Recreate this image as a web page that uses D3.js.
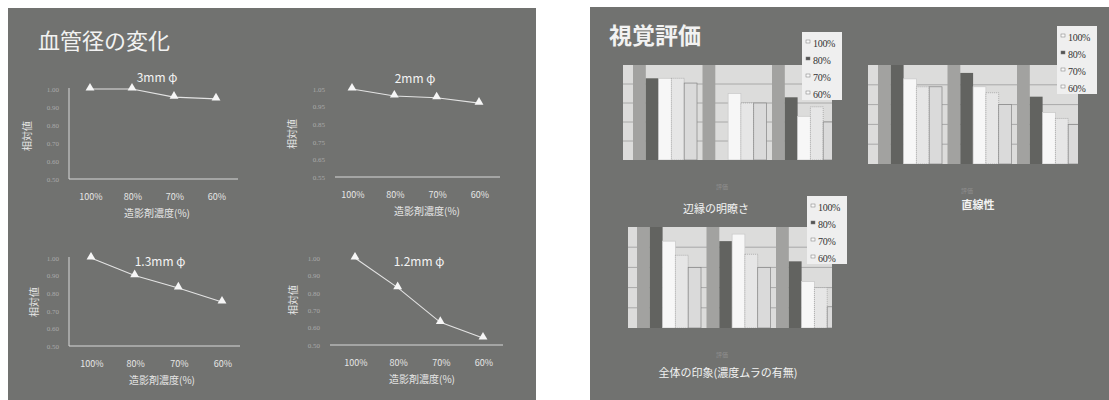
<!DOCTYPE html>
<html lang="ja">
<head>
<meta charset="UTF-8">
<title>血管径の変化 / 視覚評価</title>
<script src="https://cdn.jsdelivr.net/npm/d3@7"></script>
<style>
  body { margin: 0; background: #fff; }
  svg { display: block; font-family: "Noto Sans CJK JP", "Noto Sans", sans-serif; }
  .serif { font-family: "Liberation Serif", "DejaVu Serif", serif; }
</style>
</head>
<body>
<div id="chart"></div>
<script>
// 左スライド: 造影剤濃度と相対値
const concentrations = ["100%", "80%", "70%", "60%"];
const v3mm  = [1.00, 1.00, 0.955, 0.945];
const v2mm  = [1.05, 1.01, 1.00, 0.97];
const v13mm = [1.00, 0.90, 0.83, 0.75];
const v12mm = [1.00, 0.83, 0.63, 0.54];
const ticksA = [1.00, 0.90, 0.80, 0.70, 0.60, 0.50];
const ticksB = [1.05, 0.95, 0.85, 0.75, 0.65, 0.55];

// 右スライド: 視覚評価 (3 グループ x 5 本)
const groups = ["1", "2", "3"];
const seriesKeys = ["ref", "80%", "100%", "70%", "60%"];
const legendNames = ["100%", "80%", "70%", "60%"];
const edgeScores  = [[5, 4.3, 4.3, 4.3, 4.05], [5, 0, 3.5, 3.0, 3.0], [5, 3.3, 2.3, 2.8, 2.0]];
const lineScores  = [[5, 5, 4.3, 3.9, 3.9], [5, 4.6, 3.9, 3.6, 3.0], [5, 3.4, 2.6, 2.3, 2.0]];
const totalScores = [[5, 5, 4.3, 3.6, 3.0], [5, 4.3, 4.65, 3.65, 3.0], [5, 3.3, 2.3, 2.0, 1.05]];

const W = 1109, H = 400;
const svg = d3.select("#chart").append("svg").attr("width", W).attr("height", H);

// スライド背景
svg.append("rect").attr("x", 8).attr("y", 8).attr("width", 528).attr("height", 400).attr("fill", "#717270");
svg.append("rect").attr("x", 590).attr("y", 7).attr("width", 530).attr("height", 400).attr("fill", "#717270");

svg.append("text").attr("x", 38).attr("y", 49).attr("fill", "#f2f2f2")
  .attr("font-size", 22).text("血管径の変化");
svg.append("text").attr("x", 609).attr("y", 44).attr("fill", "#f2f2f2")
  .attr("font-size", 23).attr("font-weight", "bold").text("視覚評価");

function lineChart(o) {
  const g = svg.append("g");
  const x = d3.scalePoint().domain(concentrations).range(o.xr);
  const y = d3.scaleLinear().domain([o.ticks[o.ticks.length - 1], o.ticks[0]]).range(o.yr);

  // 軸
  if (o.yLine) {
    g.append("line").attr("x1", o.axisX).attr("x2", o.axisX)
      .attr("y1", o.yr[1] - 1).attr("y2", o.yr[0]).attr("stroke", "#d8d8d8").attr("stroke-width", 1);
  }
  g.append("line").attr("x1", o.axisX).attr("x2", o.axisEnd)
    .attr("y1", o.yr[0]).attr("y2", o.yr[0]).attr("stroke", "#d8d8d8").attr("stroke-width", 1);

  const ya = g.append("g").attr("transform", `translate(${o.axisX - 7},0)`)
    .call(d3.axisLeft(y).tickValues(o.ticks).tickFormat(d3.format(".2f")).tickSize(0));
  ya.select(".domain").remove();
  ya.attr("font-family", null);
  ya.selectAll("text").attr("class", "serif").attr("fill", "#aaaaaa").attr("font-size", 7);

  concentrations.forEach(c => {
    g.append("text").attr("x", x(c) + 1).attr("y", o.yr[0] + 21)
      .attr("text-anchor", "middle").attr("fill", "#e6e6e6").attr("font-size", 9).text(c);
  });
  g.append("text").attr("x", o.titleX).attr("y", o.yr[0] + 38)
    .attr("text-anchor", "middle").attr("fill", "#e6e6e6").attr("font-size", 10).text("造影剤濃度(%)");
  g.append("text").attr("transform", `translate(${o.ytX},${o.ytY}) rotate(-90)`)
    .attr("text-anchor", "middle").attr("fill", "#e6e6e6").attr("font-size", 10).text("相対値");
  g.append("text").attr("x", o.nameX).attr("y", o.nameY)
    .attr("text-anchor", "middle").attr("fill", "#f4f4f4").attr("font-size", 12).text(o.name);

  const pts = concentrations.map((c, i) => [x(c), y(o.values[i])]);
  g.append("path").attr("d", d3.line()(pts)).attr("fill", "none")
    .attr("stroke", "#efefef").attr("stroke-width", 1.1).attr("opacity", 0.9);
  g.selectAll("path.m").data(pts).enter().append("path").attr("class", "m")
    .attr("transform", d => `translate(${d[0]},${d[1] - 1})`)
    .attr("d", d3.symbol(d3.symbolTriangle, 34)).attr("fill", "#f6f6f6");
}

lineChart({ name: "3mm φ", values: v3mm, ticks: ticksA, xr: [90, 216], yr: [179, 89],
  axisX: 69, axisEnd: 238, yLine: true, titleX: 157, ytX: 31, ytY: 136, nameX: 157, nameY: 82 });
lineChart({ name: "2mm φ", values: v2mm, ticks: ticksB, xr: [352, 479], yr: [177, 89],
  axisX: 335, axisEnd: 500, yLine: false, titleX: 427, ytX: 296, ytY: 134, nameX: 415, nameY: 83 });
lineChart({ name: "1.3mm φ", values: v13mm, ticks: ticksA, xr: [91, 222], yr: [346, 258],
  axisX: 69, axisEnd: 240, yLine: true, titleX: 162, ytX: 38, ytY: 302, nameX: 160, nameY: 266 });
lineChart({ name: "1.2mm φ", values: v12mm, ticks: ticksA, xr: [355, 483], yr: [345, 258],
  axisX: 330, axisEnd: 503, yLine: false, titleX: 422, ytX: 297, ytY: 300, nameX: 419, nameY: 266 });

// 棒グラフ
const fills = { "ref": "#a2a2a0", "80%": "#626360", "100%": "#f7f7f7", "70%": "#e6e6e6", "60%": "#dadada" };
const strokes = { "ref": "none", "80%": "none", "100%": "#c8c8c8", "70%": "#9a9a9a", "60%": "#858585" };
let clipId = 0;

function barChart(o) {
  const g = svg.append("g");
  const id = "clip" + (clipId++);
  g.append("clipPath").attr("id", id).append("rect")
    .attr("x", o.x0).attr("y", o.y0 - 1).attr("width", o.x1 - o.x0).attr("height", o.y1 - o.y0 + 1);
  const y = d3.scaleLinear().domain([0, 5]).range([o.y1, o.y0]);
  const gx = d3.scaleBand().domain(groups).range([o.x0 + o.off, o.x0 + o.off + 3 * 69.5]);
  const sx = d3.scaleBand().domain(seriesKeys).range([0, 64]);

  g.append("rect").attr("x", o.x0).attr("y", o.y0).attr("width", o.x1 - o.x0)
    .attr("height", o.y1 - o.y0).attr("fill", "#dcdcdb");
  g.append("g").selectAll("line").data([1, 2, 3, 4]).enter().append("line")
    .attr("x1", o.x0).attr("x2", o.x1).attr("y1", d => y(d)).attr("y2", d => y(d))
    .attr("stroke", "#9c9c9c").attr("stroke-width", 0.8);

  const body = g.append("g").attr("clip-path", `url(#${id})`);
  groups.forEach((grp, gi) => {
    seriesKeys.forEach((k, si) => {
      const v = o.data[gi][si];
      if (!v) return;
      body.append("rect").attr("x", gx(grp) + sx(k)).attr("y", y(v))
        .attr("width", sx.bandwidth()).attr("height", o.y1 - y(v))
        .attr("fill", fills[k]).attr("stroke", strokes[k]).attr("stroke-width", 0.7)
        .attr("stroke-dasharray", k === "70%" ? "1,1" : null);
    });
  });

  g.append("text").attr("x", o.evX).attr("y", o.y1 + 29).attr("text-anchor", "middle")
    .attr("fill", "#8f8f8f").attr("font-size", 6).text("評価");
  g.append("text").attr("x", o.labelX).attr("y", o.labelY).attr("text-anchor", "middle")
    .attr("fill", "#f2f2f2").attr("font-size", 11).attr("font-weight", o.bold ? "bold" : null).text(o.label);

  // 凡例
  const lg = g.append("g").attr("transform", `translate(${o.lx},${o.ly})`);
  lg.append("rect").attr("width", 40).attr("height", 68).attr("fill", "#efefef");
  legendNames.forEach((n, i) => {
    lg.append("rect").attr("x", 4).attr("y", 8 + i * 17).attr("width", 4).attr("height", 3)
      .attr("fill", n === "80%" ? "#555" : "#fafafa").attr("stroke", "#777").attr("stroke-width", 0.5);
    lg.append("text").attr("class", "serif").attr("x", 11).attr("y", 15 + i * 17).attr("fill", "#333")
      .attr("font-size", 10).attr("letter-spacing", -0.3).text(n);
  });
}

barChart({ data: edgeScores, x0: 623, x1: 832, y0: 65, y1: 160, off: 10,
  lx: 802, ly: 32, label: "辺縁の明瞭さ", labelX: 716, labelY: 213, evX: 722 });
barChart({ data: lineScores, x0: 868, x1: 1078, y0: 65, y1: 164, off: 10,
  lx: 1057, ly: 26, label: "直線性", labelX: 978, labelY: 209, evX: 967, bold: true });
barChart({ data: totalScores, x0: 628, x1: 832, y0: 227, y1: 328, off: 9,
  lx: 807, ly: 196, label: "全体の印象(濃度ムラの有無)", labelX: 728, labelY: 377, evX: 722 });
</script>
</body>
</html>
